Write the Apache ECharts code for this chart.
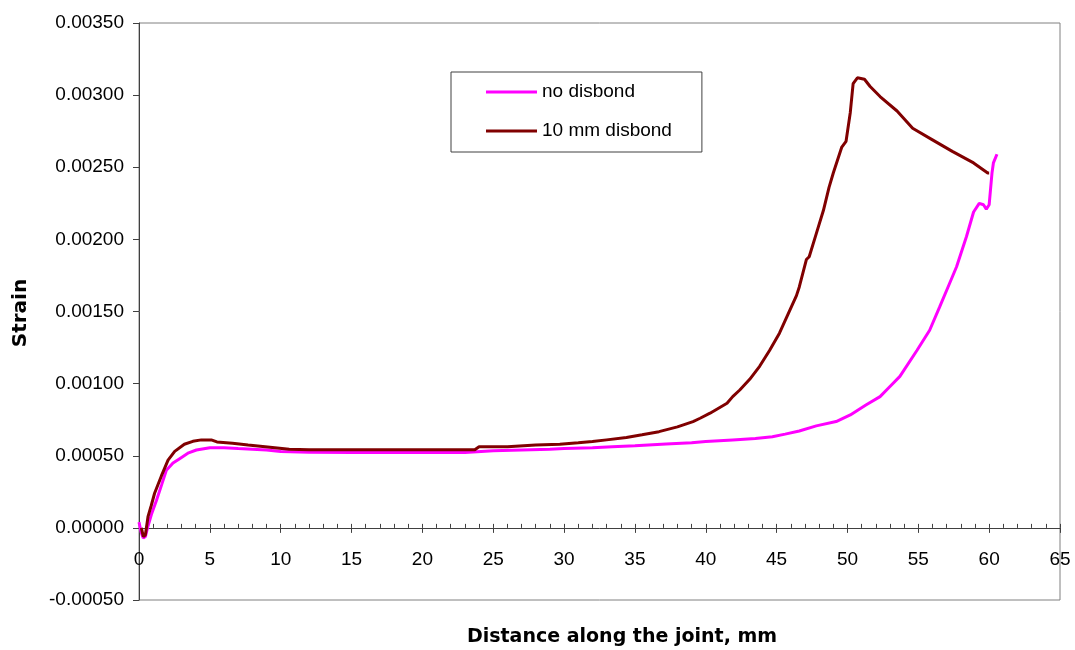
<!DOCTYPE html>
<html>
<head>
<meta charset="utf-8">
<script src="https://cdn.jsdelivr.net/npm/echarts@6/dist/echarts.min.js"></script>
<style>
html,body{margin:0;padding:0;background:#fff;}
#chart{width:1075px;height:650px;}
</style>
</head>
<body>
<div id="chart"></div>
<script>
const seriesNames = ['no disbond', '10 mm disbond'];
const noDisbondX = [0, 0.15, 0.3, 0.45, 0.6, 0.9, 1.23, 1.6, 1.93, 2.4, 2.87, 3.5, 4.05, 5, 6, 7, 8, 9, 10, 12, 15, 18, 21, 23, 25, 27, 29, 30, 32, 33.4, 35, 37.2, 39, 40, 41.9, 43.5, 44.7, 45.6, 46.6, 47.8, 49.2, 50.2, 51.3, 52.3, 53, 53.7, 54.9, 55.8, 56.5, 57.1, 57.7, 58.4, 58.9, 59.3, 59.6, 59.8, 60.0, 60.1, 60.2, 60.3, 60.55];
const noDisbondY = [0.00004, -0.00003, -0.00007, -0.00006, 0.0, 0.00010, 0.00019, 0.00030, 0.00040, 0.00045, 0.00048, 0.00052, 0.00054, 0.000556, 0.000556, 0.00055, 0.000545, 0.00054, 0.00053, 0.000525, 0.000522, 0.000522, 0.000522, 0.000522, 0.000535, 0.00054, 0.000545, 0.00055, 0.000555, 0.000563, 0.00057, 0.000582, 0.00059, 0.000598, 0.00061, 0.00062, 0.000632, 0.00065, 0.000672, 0.000707, 0.000737, 0.000783, 0.000852, 0.00091, 0.00098, 0.00105, 0.00123, 0.00137, 0.00153, 0.00167, 0.00181, 0.00202, 0.00219, 0.00225, 0.00224, 0.00221, 0.00224, 0.00235, 0.00246, 0.00253, 0.00259];
const disbondX = [0.17, 0.3, 0.45, 0.64, 0.85, 1.1, 1.58, 2.05, 2.52, 3.2, 3.8, 4.4, 5.1, 5.5, 6.6, 7.7, 8.9, 10.6, 12, 15, 18, 21, 23.7, 24, 26, 28, 29.7, 31, 32, 33, 34.4, 35.5, 36.7, 38, 39.1, 39.6, 40.3, 41.5, 41.9, 42.4, 43.1, 43.8, 44.5, 45.2, 45.8, 46.4, 46.6, 47.1, 47.3, 47.8, 48.3, 48.7, 49.0, 49.6, 49.9, 50.0, 50.2, 50.4, 50.7, 51.2, 51.6, 52.3, 53.5, 54.6, 56.0, 57.4, 58.9, 59.9, 60.0];
const disbondY = [0.0, -0.00006, -0.00005, 0.00008, 0.00015, 0.00024, 0.00036, 0.00047, 0.00053, 0.00058, 0.0006, 0.00061, 0.00061, 0.000596, 0.000587, 0.000575, 0.000563, 0.000545, 0.000541, 0.000541, 0.000541, 0.000541, 0.000541, 0.000562, 0.000562, 0.000575, 0.00058, 0.00059, 0.000598, 0.00061, 0.000626, 0.000645, 0.000667, 0.0007, 0.000737, 0.00076, 0.000795, 0.000864, 0.00091, 0.000956, 0.00103, 0.00112, 0.00123, 0.00135, 0.00148, 0.00161, 0.00167, 0.00186, 0.00188, 0.00204, 0.0022, 0.00236, 0.00246, 0.00264, 0.00268, 0.00269, 0.00288, 0.00308, 0.00312, 0.00311, 0.00306, 0.00299, 0.00289, 0.00277, 0.00269, 0.00261, 0.00253, 0.00246, 0.00246];
const xTitle = 'Distance along the joint, mm';
const yTitle = 'Strain';

function zip(a, b) { return a.map((v, i) => [v, b[i]]); }

const chart = echarts.init(document.getElementById('chart'), null, {renderer: 'canvas'});
const font = 'Liberation Sans, Arial, sans-serif';
const titleFont = '"DejaVu Sans", sans-serif';
const yMin = -0.0005, yMax = 0.0035;
const gridTop = 23, gridBottom = 50, chartH = 650;
// move x axis up to the y=0 line (distance of 0 above the bottom edge)
const zeroOffset = -(chartH - gridTop - gridBottom) * (0 - yMin) / (yMax - yMin);

chart.setOption({
  animation: false,
  backgroundColor: '#fff',
  grid: {left: 139, right: 15, top: gridTop, bottom: gridBottom, show: true, borderColor: '#808080', borderWidth: 1, backgroundColor: 'transparent'},
  legend: {
    left: 451, top: 72, orient: 'vertical',
    padding: [10, 30, 11, 35], itemGap: 19, itemWidth: 51, itemHeight: 3,
    icon: 'rect',
    borderColor: '#404040', borderWidth: 1,
    textStyle: {fontFamily: font, fontSize: 19, color: '#000', lineHeight: 20},
    data: seriesNames
  },
  xAxis: [{
    type: 'value', min: 0, max: 65, interval: 5, position: 'bottom', offset: zeroOffset,
    axisLine: {onZero: false, lineStyle: {color: '#404040', width: 1}},
    axisTick: {inside: true, length: 4, lineStyle: {color: '#404040'}},
    minorTick: {show: true, splitNumber: 5, length: 4, lineStyle: {color: '#404040'}},
    axisLabel: {fontFamily: font, fontSize: 19, color: '#000', margin: 22},
    splitLine: {show: false}
  }, {
    type: 'value', min: 0, max: 65, interval: 5, position: 'bottom', offset: zeroOffset,
    axisLine: {show: false, onZero: false},
    axisTick: {inside: false, length: 5, lineStyle: {color: '#404040'}},
    axisLabel: {show: false},
    splitLine: {show: false}
  }],
  yAxis: {
    type: 'value', min: yMin, max: yMax, interval: 0.0005,
    axisLine: {show: true, onZero: false, lineStyle: {color: '#404040', width: 1}},
    axisTick: {show: true, length: 6, lineStyle: {color: '#404040'}},
    axisLabel: {fontFamily: font, fontSize: 19, color: '#000', margin: 15, formatter: v => v.toFixed(5)},
    splitLine: {show: false}
  },
  graphic: [{
    type: 'text', x: 622, y: 637,
    style: {text: xTitle, font: 'bold 19px ' + titleFont, fill: '#000', textAlign: 'center', textVerticalAlign: 'middle'}
  }, {
    type: 'text', x: 21, y: 313, rotation: Math.PI / 2,
    style: {text: yTitle, font: 'bold 20px ' + titleFont, fill: '#000', textAlign: 'center', textVerticalAlign: 'middle'}
  }],
  series: [{
    name: seriesNames[0], type: 'line', symbol: 'none', xAxisIndex: 0,
    lineStyle: {color: '#FF00FF', width: 3}, itemStyle: {color: '#FF00FF'},
    data: zip(noDisbondX, noDisbondY)
  }, {
    name: seriesNames[1], type: 'line', symbol: 'none', xAxisIndex: 0,
    lineStyle: {color: '#800000', width: 3}, itemStyle: {color: '#800000'},
    data: zip(disbondX, disbondY)
  }]
});
</script>
</body>
</html>
